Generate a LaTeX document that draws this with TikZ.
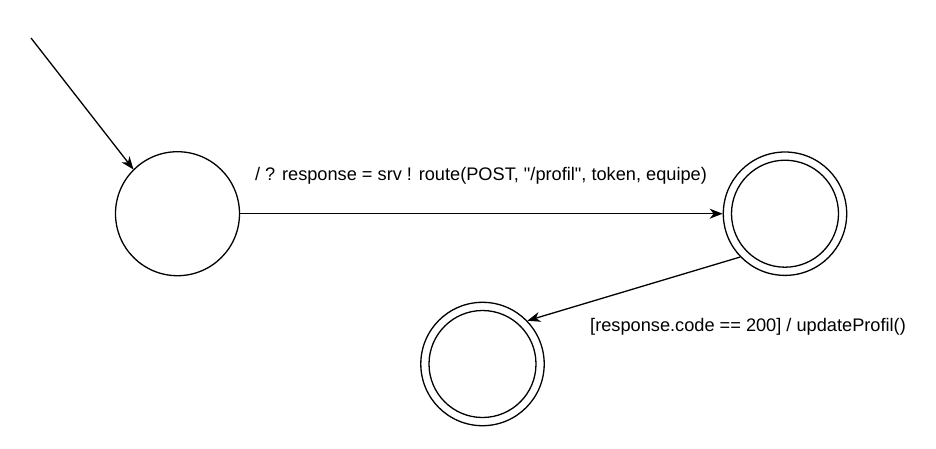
\documentclass[tikz,border=0pt]{standalone}
\usepackage{fontspec}
\setmainfont{Liberation Sans}[Ligatures=TeXReset]
\usetikzlibrary{arrows.meta}
\begin{document}
\begin{tikzpicture}[x=1pt,y=-1pt,
  state/.style={circle,draw,line width=1.3pt,minimum size=124pt,inner sep=0pt},
  ring/.style={circle,draw,line width=1.3pt,inner sep=0pt},
  conn/.style={line width=1.3pt,-{Stealth[length=13pt,width=10pt,inset=4pt]}},
  lbl/.style={font=\fontsize{18.2pt}{21pt}\selectfont,inner sep=0pt}]
\useasboundingbox (0,0) rectangle (936,448);
\node[state] (s0) at (177.5,213.7) {};
\node[ring,minimum size=123.4pt] (s1) at (785,213.7) {};
\node[ring,minimum size=107pt] (s1i) at (785,213.7) {};
\node[ring,minimum size=123.4pt] (s2) at (482.5,364) {};
\node[ring,minimum size=107pt] (s2i) at (482.5,364) {};
\coordinate (init) at (31,38);
\coordinate (tip0) at (133.5,169.5);
\draw[conn] (init) -- (tip0);
\draw[conn] (s0) -- (s1);
\draw[conn] (s1.-136) -- (s2.44);
\node[lbl] (l1) at (481,176) {/ ? response = srv ! route(POST, "/profil", token, equipe)};
\node[lbl,anchor=west] (l2) at (590,327) {[response.code == 200] / updateProfil()};
\end{tikzpicture}
\end{document}
